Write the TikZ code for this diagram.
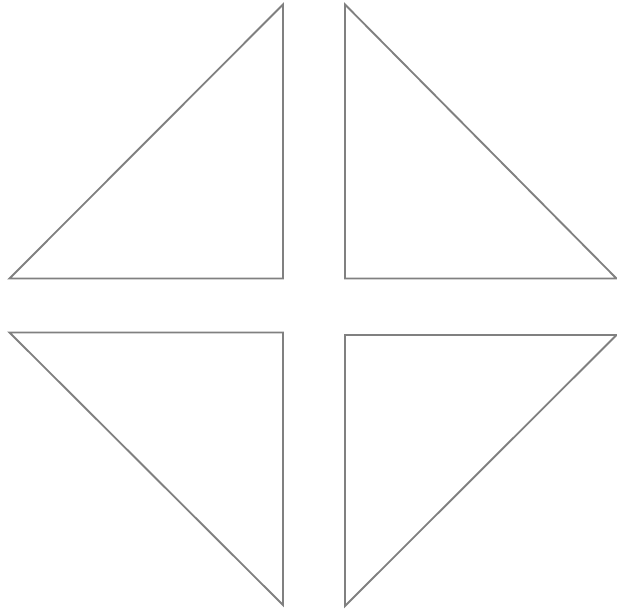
\documentclass[tikz,border=0pt]{standalone}
\usetikzlibrary{calc}
\definecolor{edgegray}{HTML}{808080}

\begin{document}
\begin{tikzpicture}[
		x=0.75pt, y=-0.75pt,
		wedge/.style={draw=edgegray, line width=1.4pt, line join=miter},
	]

	\useasboundingbox (0, 0) rectangle (617, 609);

	% upper pair
	\draw[wedge] (9.5, 278.5) -- (283, 278.5) -- (283, 4.5) -- cycle;
	\draw[wedge] (345, 4.5) -- (345, 278.5) -- (616.5, 278.5) -- cycle;

	% lower pair
	\draw[wedge] (9.5, 332.5) -- (283, 332.5) -- (283, 605) -- cycle;
	\draw[wedge] (345, 335) -- (616.5, 335) -- (345, 606) -- cycle;

\end{tikzpicture}
\end{document}
